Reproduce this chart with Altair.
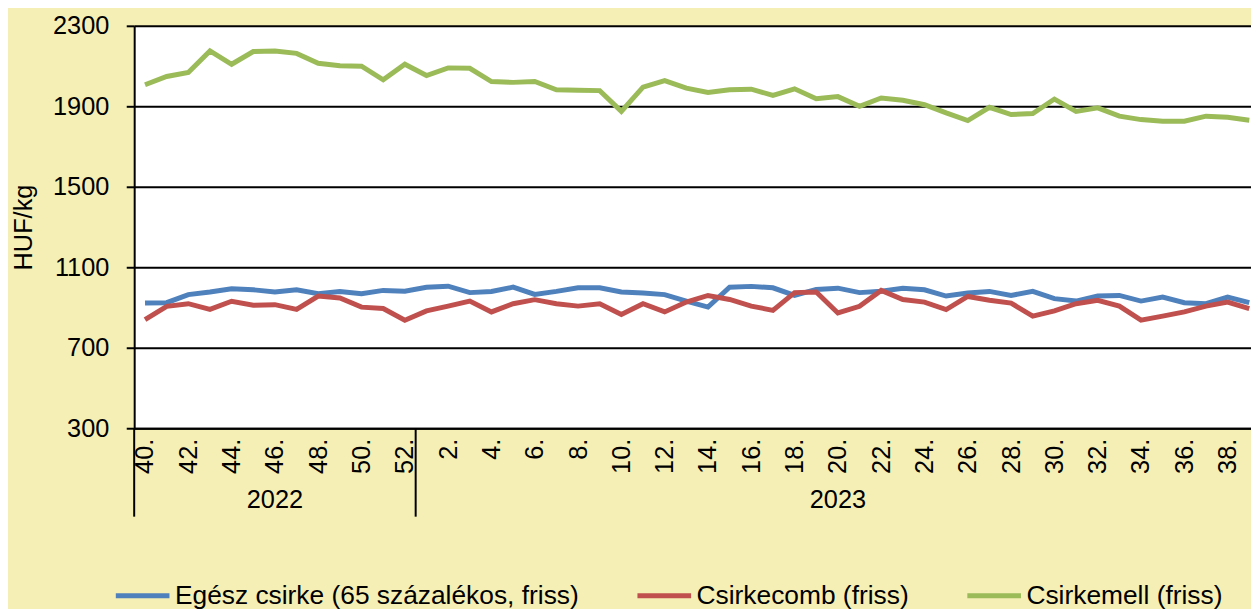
import json
import pandas as pd
import altair as alt

# ---- data ----
weeks_2022 = [40, 41, 42, 43, 44, 45, 46, 47, 48, 49, 50, 51, 52]
weeks_2023 = list(range(1, 40))
years = ["2022", "2023"]

series_names = ["Egész csirke (65 százalékos, friss)", "Csirkecomb (friss)", "Csirkemell (friss)"]
series_colors = ["#4F81BD", "#C0504D", "#9BBB59"]

egesz = [922, 924, 964, 977, 993, 988, 977, 988, 969, 980, 969, 985, 981,
         1001, 1006, 974, 980, 1001, 965, 980, 998, 998, 977, 972, 964, 932,
         902, 1001, 1005, 998, 960, 990, 996, 974, 981, 996, 988, 957, 972,
         980, 960, 980, 944, 932, 957, 960, 932, 952, 924, 919, 952, 924]
comb = [840, 906, 919, 891, 931, 911, 914, 891, 957, 947, 902, 895, 837,
        883, 907, 932, 878, 919, 939, 919, 907, 919, 865, 919, 878, 927,
        960, 940, 907, 886, 974, 977, 873, 906, 985, 940, 927, 890, 955,
        936, 922, 857, 883, 919, 936, 907, 837, 857, 878, 907, 927, 895]
mell = [2007, 2048, 2068, 2175, 2109, 2172, 2175, 2163, 2114, 2102, 2099, 2032, 2109,
        2053, 2091, 2089, 2023, 2019, 2023, 1982, 1980, 1978, 1875, 1995, 2028, 1990,
        1969, 1982, 1985, 1954, 1987, 1938, 1948, 1900, 1941, 1930, 1908, 1867, 1829,
        1895, 1859, 1864, 1936, 1875, 1892, 1851, 1834, 1826, 1826, 1851, 1846, 1831]

y_ticks = [300, 700, 1100, 1500, 1900, 2300]

# ---- tables built from the arrays ----
weeks = weeks_2022 + weeks_2023
week_labels = [f"{w}." for w in weeks]
idx = list(range(len(weeks)))
rows = []
for name, vals in zip(series_names, [egesz, comb, mell]):
    for i, v in zip(idx, vals):
        rows.append({"i": i, "value": v, "series": name})
df = pd.DataFrame(rows)

n22 = len(weeks_2022)
n_all = len(weeks)
year_df = pd.DataFrame({
    "year": years,
    "center": [(-0.5 + n22 - 0.5) / 2, (n22 - 0.5 + n_all - 0.5) / 2],
})
sep_df = pd.DataFrame({"pos": [-0.5, n22 - 0.5]})

tick_vals = [i for i, w in zip(idx, weeks) if w % 2 == 0]
label_expr = json.dumps(week_labels) + "[datum.value]"

FONT = "Liberation Sans"
W, H = 1124, 405
TOTAL_H = 601
xscale = alt.Scale(domain=[-0.5, 51.08], nice=False, zero=False)

lines = alt.Chart(df).mark_line(strokeWidth=5, strokeJoin="miter", strokeCap="butt").encode(
    x=alt.X("i:Q", scale=xscale,
            axis=alt.Axis(values=tick_vals, labelExpr=label_expr, title=None,
                          labelAngle=270, labelAlign="right", labelBaseline="middle",
                          labelFontSize=25.5, labelFont=FONT, labelColor="black",
                          labelPadding=10, ticks=False, grid=False, domain=True,
                          domainColor="black", domainWidth=2, labelOverlap=False,
                          labelFlush=False)),
    y=alt.Y("value:Q", scale=alt.Scale(domain=[300, 2300], nice=False, zero=False),
            axis=alt.Axis(values=y_ticks, format="d", title="HUF/kg", titleFont=FONT,
                          titleFontSize=25.5, titleFontWeight="normal", titleColor="black",
                          titlePadding=16,
                          labelFont=FONT, labelFontSize=25.5, labelColor="black",
                          labelPadding=17.5, tickSize=8, tickColor="black", tickWidth=2,
                          grid=True, gridColor="black", gridWidth=2, gridOpacity=1,
                          domainColor="black", domainWidth=2)),
    color=alt.Color("series:N", sort=series_names,
                    scale=alt.Scale(domain=series_names, range=series_colors),
                    legend=alt.Legend(title=None, orient="none", legendX=-21, legendY=544,
                                      direction="horizontal", symbolType="stroke",
                                      symbolSize=2916, symbolStrokeWidth=5,
                                      labelFont=FONT, labelFontSize=26.5, labelColor="black",
                                      labelOffset=3, columnPadding=48, labelLimit=700)),
    order=alt.Order("i:Q"),
)

seps = alt.Chart(sep_df).mark_rule(color="black", strokeWidth=2).encode(
    x=alt.X("pos:Q", scale=xscale),
    y=alt.value(H),
    y2=alt.value(H + 89),
)

year_text = alt.Chart(year_df).mark_text(font=FONT, fontSize=25.5, color="black",
                                         baseline="middle", align="center").encode(
    x=alt.X("center:Q", scale=xscale),
    y=alt.value(H + 72),
    text="year:N",
)

chart = alt.layer(lines, seps, year_text).properties(
    width=W, height=H,
    background="#F5EFB6",
    padding={"left": 127, "top": 16, "right": 0, "bottom": TOTAL_H - 16 - H},
    autosize=alt.AutoSizeParams(type="none"),
).configure_view(fill="white", stroke="transparent")

chart.save("out.html", embed_options={"renderer": "svg", "actions": False})
